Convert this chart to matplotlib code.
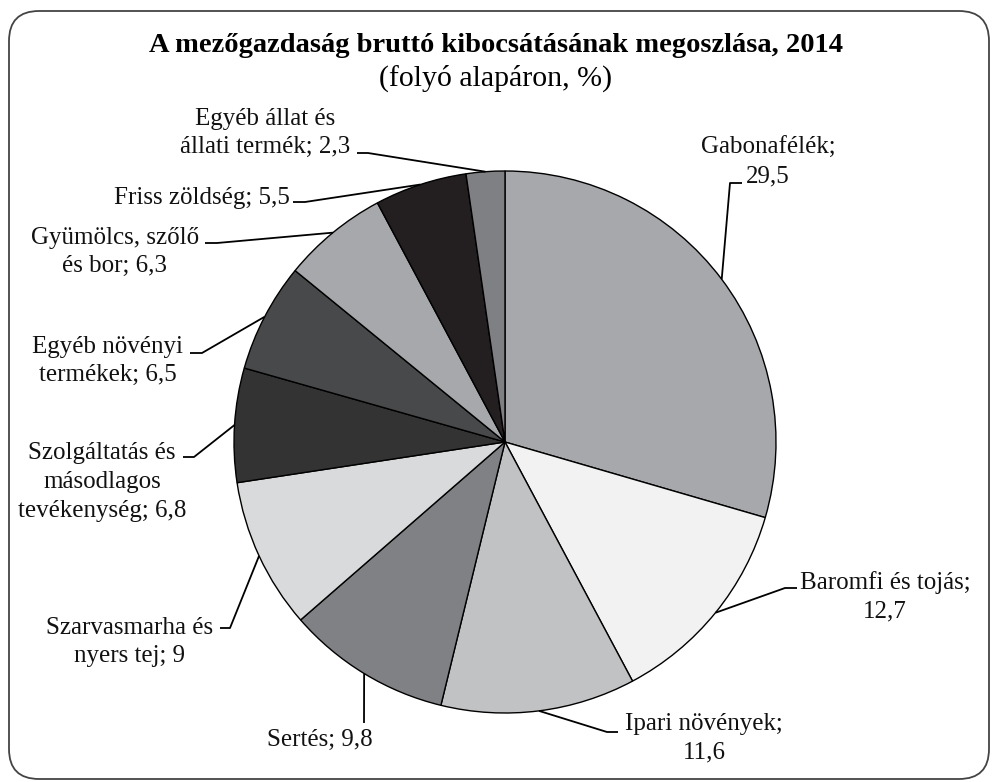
import numpy as np
import matplotlib.pyplot as plt
from matplotlib.patches import FancyBboxPatch

plt.rcParams["font.family"] = ["Liberation Serif", "DejaVu Serif"]

# data
names = ["Gabonafélék;\n", "Baromfi és tojás;\n", "Ipari növények;\n", "Sertés; ",
         "Szarvasmarha és\nnyers tej; ", "Szolgáltatás és\nmásodlagos\ntevékenység; ",
         "Egyéb növényi\ntermékek; ", "Gyümölcs, szőlő\nés bor; ", "Friss zöldség; ",
         "Egyéb állat és\nállati termék; "]
shares = [29.5, 12.7, 11.6, 9.8, 9.0, 6.8, 6.5, 6.3, 5.5, 2.3]
colors = ["#a7a8ab", "#f1f2f1", "#c1c2c4", "#808184", "#d9dadb",
          "#333334", "#48494b", "#a7a8ab", "#231f20", "#7f8083"]

W, H = 992, 782
fig = plt.figure(figsize=(W / 100, H / 100), dpi=100)
ax = fig.add_axes([0, 0, 1, 1])

def Y(y):
    # image pixel row -> data y
    return H - y

cx, cy, r = 505, Y(442), 271
wedges, _ = ax.pie(shares, colors=colors, startangle=90, counterclock=False,
                   center=(cx, cy), radius=r,
                   wedgeprops=dict(edgecolor="black", linewidth=1.0))
ax.set_xlim(0, W)
ax.set_ylim(0, H)
ax.set_aspect("equal")
ax.axis("off")

# label layout in image pixels: elbow point, line end, text centre
elbows = [(730, 183), (785, 588), (607, 732), (364, 723), (230, 628),
          (194, 457), (202, 353), (217, 243), (305, 202), (368, 153)]
ends = [(742, 183), (797, 588), (618, 732), (364, 723), (220, 628),
        (183, 457), (190, 353), (205, 243), (293, 202), (357, 153)]
text_pos = [(768, 162), (885, 597), (704, 738), (320, 740), (130, 642),
            (102, 482), (108, 361), (115, 252), (202, 198), (265, 133)]

for w, name, val, el, en, tp in zip(wedges, names, shares, elbows, ends, text_pos):
    mid = np.deg2rad((w.theta1 + w.theta2) / 2)
    sx, sy = cx + r * np.cos(mid), cy + r * np.sin(mid)
    ax.plot([sx, el[0], en[0]], [sy, Y(el[1]), Y(en[1])], color="black", lw=1.3,
            solid_capstyle="butt")
    label = name + f"{val:g}".replace(".", ",")
    ax.text(tp[0], Y(tp[1]), label, ha="center", va="center", fontsize=18,
            multialignment="center", linespacing=1.4, color="#111111")

ax.text(496, Y(45), "A mezőgazdaság bruttó kibocsátásának megoszlása, 2014",
        ha="center", va="center", fontsize=20.5, fontweight="bold")
ax.text(496, Y(78), "(folyó alapáron, %)", ha="center", va="center", fontsize=21.5)

frame = FancyBboxPatch((9, Y(779)), 980, 768, boxstyle="round,pad=0,rounding_size=30",
                       facecolor="none", edgecolor="#444444", linewidth=1.3)
ax.add_patch(frame)

fig.savefig("out.png", dpi=100)
